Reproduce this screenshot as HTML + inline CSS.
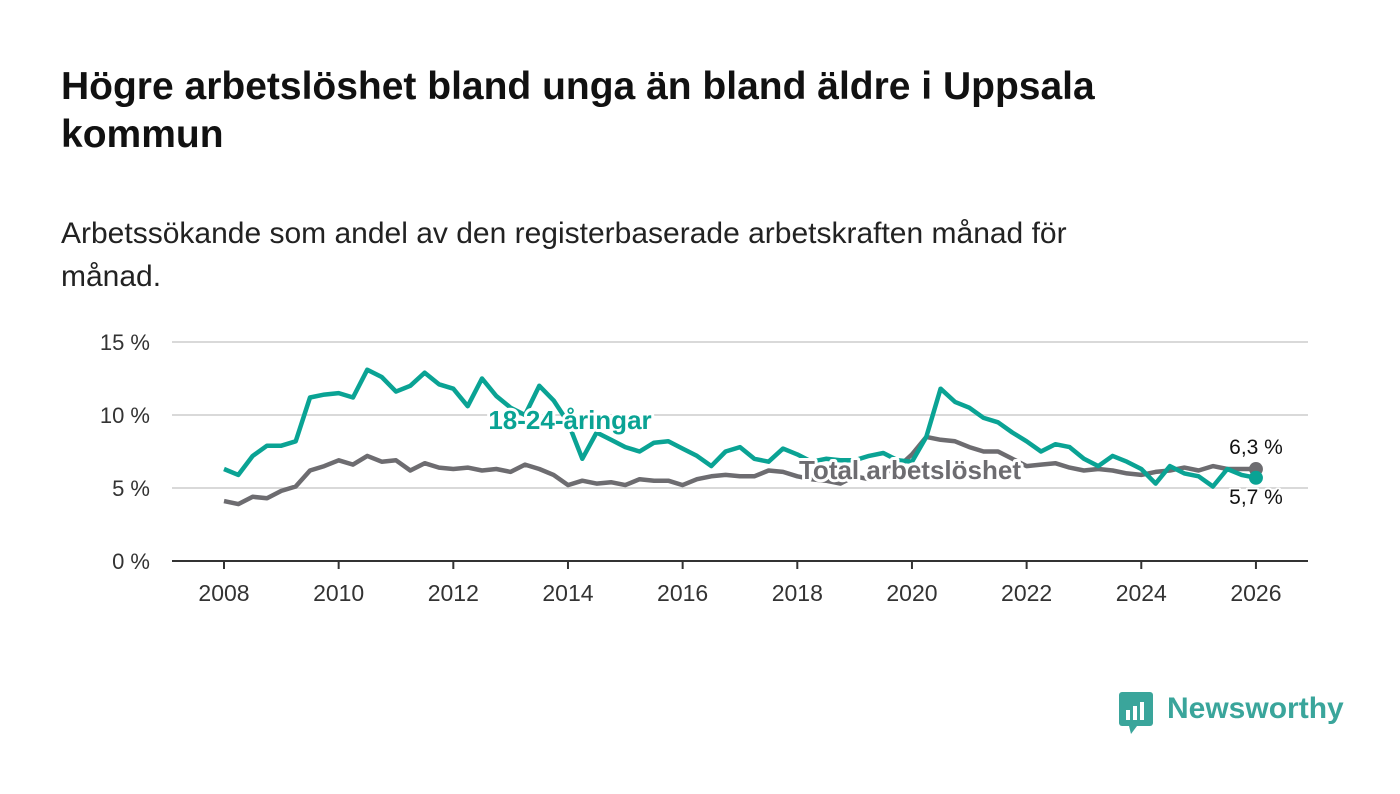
<!DOCTYPE html>
<html><head><meta charset="utf-8"><style>
body{margin:0;width:1400px;height:794px;background:#fff;font-family:"Liberation Sans",sans-serif;overflow:hidden;position:relative}
h1{position:absolute;left:61px;top:63px;margin:0;font-size:39px;line-height:48px;font-weight:bold;color:#111;width:1160px}
.sub{position:absolute;left:61px;top:212px;font-size:30px;line-height:43px;color:#222;width:1300px}
svg{position:absolute;left:0;top:0}
</style></head><body>
<h1>Högre arbetslöshet bland unga än bland äldre i Uppsala kommun</h1>
<div class="sub">Arbetssökande som andel av den registerbaserade arbetskraften månad för<br>månad.</div>
<svg id="c" width="1400" height="794"></svg>
<div style="position:absolute;left:1119px;top:692px;display:flex;align-items:center">
<svg width="36" height="42" style="position:static"><rect x="0" y="0" width="34" height="34" rx="3" fill="#3aa59b"/><polygon points="10,34 18,34 12,42" fill="#3aa59b"/><rect x="7" y="18" width="4" height="10" fill="#fff"/><rect x="14" y="14" width="4" height="14" fill="#fff"/><rect x="21" y="10" width="4" height="18" fill="#fff"/></svg>
<span style="font-size:30px;color:#3aa59b;margin-left:12px;font-weight:bold;margin-top:-8px">Newsworthy</span></div>
<script>
const years=[2008,2010,2012,2014,2016,2018,2020,2022,2024,2026];
const yTicks=[0,5,10,15];
const youth=[6.3,5.9,7.2,7.9,7.9,8.2,11.2,11.4,11.5,11.2,13.1,12.6,11.6,12.0,12.9,12.1,11.8,10.6,12.5,11.3,10.5,10.0,12.0,11.0,9.5,7.0,8.8,8.3,7.8,7.5,8.1,8.2,7.7,7.2,6.5,7.5,7.8,7.0,6.8,7.7,7.3,6.8,7.0,6.9,6.9,7.2,7.4,6.9,6.8,8.5,11.8,10.9,10.5,9.8,9.5,8.8,8.2,7.5,8.0,7.8,7.0,6.5,7.2,6.8,6.3,5.3,6.5,6.0,5.8,5.1,6.3,5.9,5.7];
const total=[4.1,3.9,4.4,4.3,4.8,5.1,6.2,6.5,6.9,6.6,7.2,6.8,6.9,6.2,6.7,6.4,6.3,6.4,6.2,6.3,6.1,6.6,6.3,5.9,5.2,5.5,5.3,5.4,5.2,5.6,5.5,5.5,5.2,5.6,5.8,5.9,5.8,5.8,6.2,6.1,5.8,5.6,5.5,5.3,5.8,5.6,6.0,6.4,7.3,8.5,8.3,8.2,7.8,7.5,7.5,7.0,6.5,6.6,6.7,6.4,6.2,6.3,6.2,6.0,5.9,6.1,6.2,6.4,6.2,6.5,6.3,6.3,6.3];
const startYear=2008, step=0.25;
const X=v=>224+(v-2008)*57.33, Y=v=>561-v*14.6;
const s=document.getElementById('c'),NS='http://www.w3.org/2000/svg';
function mk(t,a,txt){const e=document.createElementNS(NS,t);for(const k in a)e.setAttribute(k,a[k]);if(txt!=null)e.textContent=txt;s.appendChild(e);return e;}
yTicks.forEach(v=>{
 if(v>0){const g=mk('line',{x1:172,x2:1308,y1:Y(v),y2:Y(v),stroke:'#d9d9d9','stroke-width':2});
 
 }
 const t=mk('text',{x:150,y:Y(v)+8,'text-anchor':'end','font-size':22,fill:'#333'},v+' %');
 
 
});
const ax=mk('line',{x1:172,x2:1308,y1:561,y2:561,stroke:'#333','stroke-width':2});


years.forEach(yr=>{
 const tk=mk('line',{x1:X(yr),x2:X(yr),y1:561,y2:569,stroke:'#333','stroke-width':2});
 
 
 const t=mk('text',{x:X(yr),y:601,'text-anchor':'middle','font-size':23,fill:'#333'},yr);
 
 
});
function line(d,c,name){
 const p=d.map((v,i)=>(i?'L':'M')+X(startYear+i*step).toFixed(1)+','+Y(v).toFixed(1)).join('');
 const e=mk('path',{d:p,fill:'none',stroke:c,'stroke-width':4.5,'stroke-linejoin':'round'});
 
 
 const last=d.length-1;
 const dot=mk('circle',{cx:X(startYear+last*step),cy:Y(d[last]),r:7,fill:c});
 
 
}
line(total,'#6d6c70','total-line');
line(youth,'#0aa394','youth-line');
function lab(x,y,txt,c,name,anchor,w){
 const t=mk('text',{x:x,y:y,'text-anchor':anchor,'font-size':w?26:21,'font-weight':w?'bold':'normal',fill:c,stroke:'#fff','stroke-width':w?6:4,'paint-order':'stroke','stroke-linejoin':'round'},txt);
 
 
}
lab(570,429,'18-24-åringar','#0aa394','youth-series-label','middle',1);
lab(910,479,'Total arbetslöshet','#6d6c70','total-series-label','middle',1);
const li=total.length-1, yi=youth.length-1;
lab(1256,454,String(total[li]).replace('.',',')+' %','#111','total-end-value','middle',0);
lab(1256,504,String(youth[yi]).replace('.',',')+' %','#111','youth-end-value','middle',0);
</script>
</body></html>
